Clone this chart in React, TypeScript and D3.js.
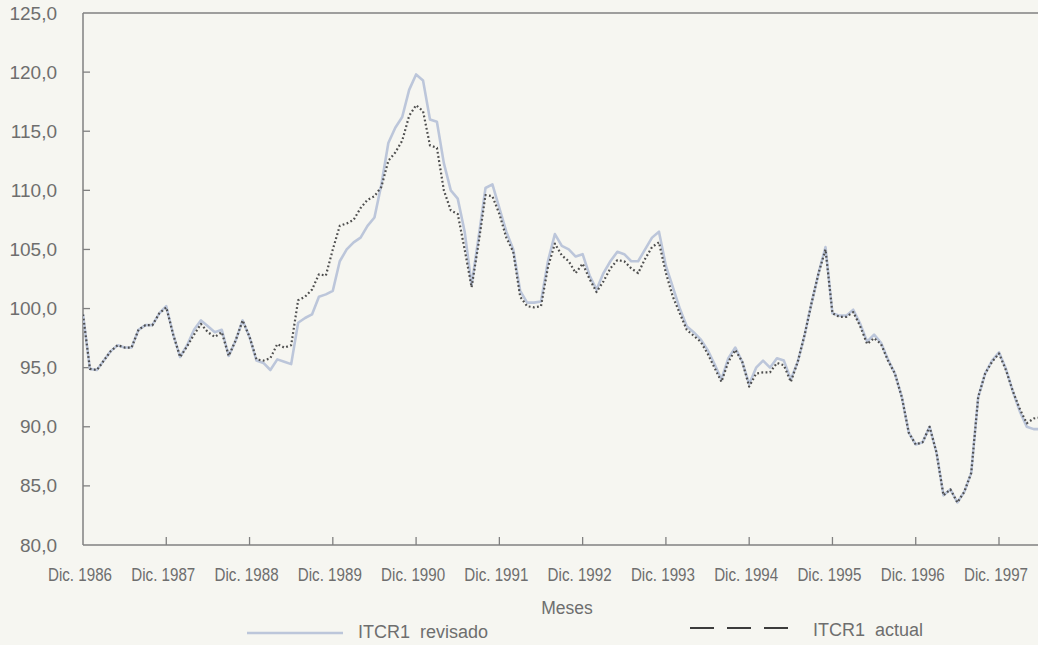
import React from "react";
import * as d3 from "d3";

// Monthly data, Dic. 1986 (index 0) to Jun. 1998
const actual: number[] = [
  99.5, 94.9, 94.8, 95.6, 96.4, 96.9, 96.7, 96.7, 98.2, 98.6, 98.6, 99.6,
  100.1, 97.8, 95.9, 96.8, 97.8, 98.7, 98.0, 97.6, 98.0, 96.0, 97.3, 99.0,
  97.6, 95.7, 95.6, 95.8, 97.0, 96.7, 96.9, 100.7, 101.0, 101.6, 102.9, 102.8,
  105.0, 107.0, 107.2, 107.5, 108.5, 109.2, 109.5, 110.3, 112.5, 113.2, 114.2, 116.3,
  117.2, 116.7, 113.8, 113.6, 110.0, 108.3, 108.0, 105.0, 101.8, 105.5, 109.6, 109.5,
  108.0, 106.0, 104.8, 101.0, 100.2, 100.1, 100.2, 103.5, 105.5, 104.5, 104.0, 103.0,
  103.8, 102.5, 101.4, 102.3, 103.4, 104.1, 104.0, 103.4, 103.0, 104.2, 105.2, 105.6,
  103.0, 101.0, 99.6, 98.2, 97.7, 97.2, 96.2, 95.0, 93.8, 95.5, 96.5, 95.5,
  93.4, 94.5, 94.6, 94.6, 95.4, 95.2, 93.8, 95.5, 97.8, 100.5, 103.0, 105.0,
  99.6, 99.3, 99.3, 99.7, 98.5, 97.0, 97.5, 97.0, 95.6, 94.5, 92.5, 89.5,
  88.5, 88.7, 90.0, 87.8, 84.2, 84.7, 83.6, 84.5, 86.1, 92.5, 94.5, 95.5,
  96.2, 94.8, 93.0, 91.5, 90.3, 90.7, 90.8,
];

const revised: number[] = [
  99.5, 94.9, 94.8, 95.6, 96.4, 96.9, 96.7, 96.7, 98.2, 98.6, 98.6, 99.6,
  100.2, 97.8, 95.9, 96.9, 98.2, 99.0, 98.5, 98.0, 98.2, 96.0, 97.3, 99.0,
  97.6, 95.6, 95.4, 94.8, 95.7, 95.5, 95.3, 98.8, 99.2, 99.5, 101.0, 101.2,
  101.5, 104.0, 105.0, 105.6, 106.0, 107.0, 107.7, 110.5, 114.0, 115.3, 116.2, 118.5,
  119.8, 119.3, 116.0, 115.8, 112.3, 110.0, 109.3, 106.5, 102.0, 106.0, 110.2, 110.5,
  108.5, 106.5, 105.0, 101.5, 100.5, 100.5, 100.6, 104.0, 106.3, 105.3, 105.0, 104.4,
  104.6, 102.8, 101.6, 103.0, 104.0, 104.8, 104.6, 104.0, 104.0, 105.0, 106.0, 106.5,
  103.6, 101.8, 100.0, 98.5, 98.0, 97.4, 96.5, 95.3, 94.0, 95.8, 96.7, 95.5,
  93.6, 95.0, 95.6, 95.0, 95.8, 95.6, 94.0, 95.5, 97.8, 100.5, 103.0, 105.2,
  99.6, 99.4, 99.4, 99.9, 98.7, 97.2, 97.8, 97.1, 95.7, 94.5, 92.5, 89.5,
  88.5, 88.7, 90.0, 87.8, 84.2, 84.7, 83.6, 84.5, 86.1, 92.5, 94.5, 95.6,
  96.3, 94.9, 93.0, 91.3, 90.0, 89.8, 89.8,
];

const yTicks: number[] = [80, 85, 90, 95, 100, 105, 110, 115, 120, 125];
const xTickLabels: string[] = [
  "Dic. 1986", "Dic. 1987", "Dic. 1988", "Dic. 1989", "Dic. 1990", "Dic. 1991",
  "Dic. 1992", "Dic. 1993", "Dic. 1994", "Dic. 1995", "Dic. 1996", "Dic. 1997",
];
const xTitle = "Meses";
const seriesNames: string[] = ["ITCR1  revisado", "ITCR1  actual"];

export default function App() {
  const W = 1038;
  const H = 645;
  const left = 83;
  const top = 13;
  const bottom = 545;
  const monthPx = 916 / 132;

  const x = d3.scaleLinear().domain([0, 132]).range([left, left + 132 * monthPx]);
  const y = d3.scaleLinear().domain([80, 125]).range([bottom, top]);

  const line = d3
    .line<number>()
    .x((_, i) => x(i))
    .y((d) => y(d));

  const fmt = (v: number) => v.toFixed(1).replace(".", ",");
  const textColor = "#6e6e6e";
  const axisColor = "#808080";
  const sans = "'Liberation Sans', Arial, Helvetica, sans-serif";

  return (
    <svg
      width={W}
      height={H}
      style={{ position: "absolute", left: 0, top: 0, display: "block" }}
    >
      <rect x={0} y={0} width={W} height={H} fill="#f6f6f1" />
      <defs>
        <clipPath id="plotclip">
          <rect x={left} y={top} width={W - left} height={bottom - top} />
        </clipPath>
      </defs>

      {/* frame */}
      <line x1={left} x2={W} y1={top} y2={top} stroke={axisColor} strokeWidth={1.5} />
      <line x1={left} x2={left} y1={top} y2={bottom} stroke={axisColor} strokeWidth={1.5} />
      <line x1={left} x2={W} y1={bottom} y2={bottom} stroke={axisColor} strokeWidth={1.5} />

      {/* y ticks */}
      {yTicks.map((t) => (
        <g key={t}>
          {t !== 80 && t !== 125 && (
            <line x1={left} x2={left + 7} y1={y(t)} y2={y(t)} stroke={axisColor} strokeWidth={1.3} />
          )}
          <text
            x={57}
            y={y(t)}
            textAnchor="end"
            dominantBaseline="central"
            fontFamily={sans}
            fontSize={19}
            fill={textColor}
          >
            {fmt(t)}
          </text>
        </g>
      ))}

      {/* x ticks */}
      {xTickLabels.map((lab, k) => {
        const xi = x(k * 12);
        return (
          <g key={lab}>
            {k > 0 && (
              <line x1={xi} x2={xi} y1={bottom} y2={bottom - 8} stroke={axisColor} strokeWidth={1.3} />
            )}
            <text
              transform={`translate(${xi - 3},575) scale(0.82,1)`}
              x={0}
              y={0}
              textAnchor="middle"
              dominantBaseline="central"
              fontFamily={sans}
              fontSize={18.5}
              fill={textColor}
            >
              {lab}
            </text>
          </g>
        );
      })}

      <text
        x={567}
        y={608}
        textAnchor="middle"
        dominantBaseline="central"
        fontFamily={sans}
        fontSize={17.5}
        fill={textColor}
      >
        {xTitle}
      </text>

      {/* series */}
      <g clipPath="url(#plotclip)">
        <path d={line(revised) || ""} fill="none" stroke="#bcc6da" strokeWidth={2.6} strokeLinejoin="round" />
        <path
          d={line(actual) || ""}
          fill="none"
          stroke="#4e4e4e"
          strokeWidth={2.2}
          strokeDasharray="1.8,2.4"
          strokeLinejoin="round"
        />
      </g>

      {/* legend */}
      <line x1={247} x2={343} y1={633} y2={633} stroke="#bcc6da" strokeWidth={2.4} />
      <text
        x={358}
        y={632}
        dominantBaseline="central"
        fontFamily={sans}
        fontSize={18}
        fill={textColor}
        style={{ whiteSpace: "pre" }}
      >
        {seriesNames[0]}
      </text>
      <line
        x1={690}
        x2={790}
        y1={628}
        y2={628}
        stroke="#3c3c3c"
        strokeWidth={2}
        strokeDasharray="24,13"
      />
      <text
        x={813}
        y={630}
        dominantBaseline="central"
        fontFamily={sans}
        fontSize={18}
        fill={textColor}
        style={{ whiteSpace: "pre" }}
      >
        {seriesNames[1]}
      </text>
    </svg>
  );
}
